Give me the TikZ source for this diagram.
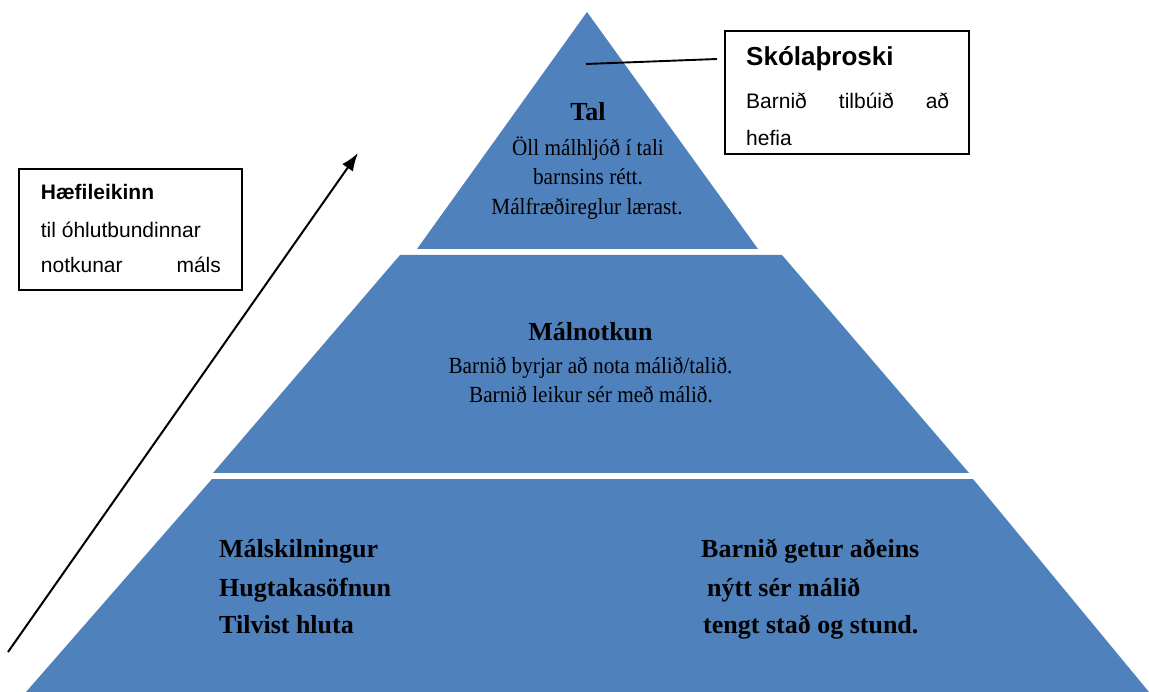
\documentclass[tikz,border=0pt]{standalone}
\usepackage{fontspec}
\setmainfont{Liberation Serif}
\setsansfont{Liberation Sans}
\newfontfamily\narrowserif{Liberation Serif}[FakeStretch=0.92]
\usetikzlibrary{arrows.meta}
\definecolor{pyrblue}{HTML}{4F81BD}
\begin{document}
\begin{tikzpicture}[x=1pt,y=-1pt,
  tier/.style={fill=pyrblue},
  serifhead/.style={inner sep=0pt, anchor=base, font=\fontsize{26}{30}\selectfont\bfseries},
  serifbody/.style={inner sep=0pt, anchor=base, font=\narrowserif\fontsize{23.1}{27}\selectfont},
  basehead/.style={inner sep=0pt, anchor=base west, font=\fontsize{26}{30}\selectfont\bfseries},
  frame/.style={draw=black, line width=1.7pt, inner sep=0pt},
  sanshead/.style={inner sep=0pt, anchor=base west, font=\sffamily\bfseries},
  sansbody/.style={inner sep=0pt, anchor=base west, font=\sffamily\fontsize{21}{25}\selectfont},
]
\useasboundingbox (0,0) rectangle (1149,692);

% pyramid tiers
\fill[tier] (587,12) -- (758,249) -- (417,249) -- cycle;
\fill[tier] (400,255) -- (782,255) -- (969,473) -- (213,473) -- cycle;
\fill[tier] (212,479) -- (973,479) -- (1149,692) -- (26,692) -- cycle;

% top tier
\node[serifhead] (tal) at (588,121) {Tal};
\node[serifbody] (tal1) at (588,156) {Öll málhljóð í tali};
\node[serifbody] (tal2) at (588,185) {barnsins rétt.};
\node[serifbody] (tal3) at (587,215) {Málfræðireglur lærast.};

% middle tier
\node[serifhead] (mal) at (590.5,341) {Málnotkun};
\node[serifbody] (mal1) at (590.5,374) {Barnið byrjar að nota málið/talið.};
\node[serifbody] (mal2) at (591,403) {Barnið leikur sér með málið.};

% bottom tier
\node[basehead] (b1) at (219,557) {Málskilningur};
\node[basehead] (b2) at (219,596) {Hugtakasöfnun};
\node[basehead] (b3) at (219,633) {Tilvist hluta};
\node[basehead] (r1) at (701,557) {Barnið getur aðeins};
\node[basehead] (r2) at (707,596) {nýtt sér málið};
\node[basehead] (r3) at (703,633) {tengt stað og stund.};

% school readiness box
\node[frame, minimum width=244pt, minimum height=123pt] (skbox) at (847,92.5) {};
\node[sanshead, font=\sffamily\bfseries\fontsize{26}{30}\selectfont] (sk) at (746,66) {Skólaþroski};
\node[sansbody] (sk1) at (746,109) {\hbox to 203pt{Barnið\hfill tilbúið\hfill að}};
\node[sansbody] (sk2) at (746,146) {hefia};
\coordinate (talpt) at (586,64);
\coordinate (skend) at (717,59);
\draw[line width=1.9pt] (talpt) -- (skend);

% abstraction box
\node[frame, minimum width=223pt, minimum height=121pt] (habox) at (130.5,229.5) {};
\node[sanshead, font=\sffamily\bfseries\fontsize{21}{25}\selectfont] (ha) at (40.7,200) {Hæfileikinn};
\node[sansbody] (ha1) at (40.7,238) {til óhlutbundinnar};
\node[sansbody] (ha2) at (40.7,273) {\hbox to 180pt{notkunar\hfill máls}};

% rising arrow
\coordinate (arrstart) at (8,652);
\coordinate (arrtip) at (358,153);
\draw[line width=2pt, -{Latex[length=18pt,width=13pt]}] (arrstart) -- (arrtip);
\end{tikzpicture}
\end{document}
